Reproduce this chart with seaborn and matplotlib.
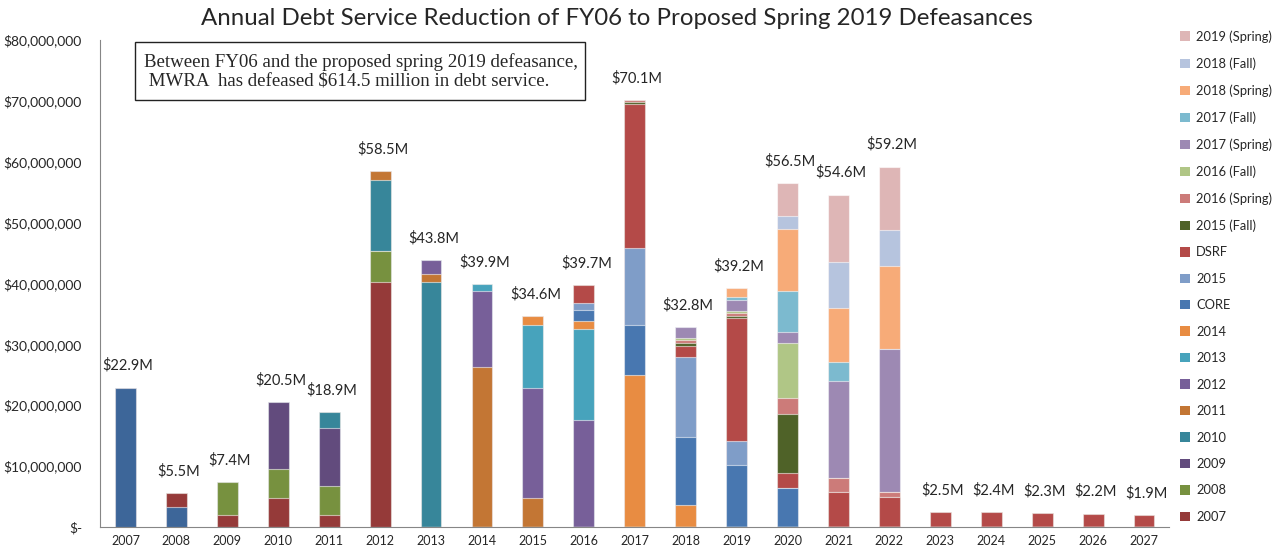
import numpy as np
import pandas as pd
import seaborn as sns
import matplotlib.pyplot as plt
from matplotlib.patches import Rectangle
from matplotlib.ticker import FuncFormatter, FixedLocator

# fiscal years on the x axis
years = [str(y) for y in range(2007, 2028)]

# debt service reduction per defeasance, $ millions
#         07    08   09   10    11    12    13    14    15    16    17    18    19    20    21    22   23   24   25   26   27
fy06   = [22.9, 3.3, 0,   0,    0,    0,    0,    0,    0,    0,    0,    0,    0,    0,    0,    0,   0,   0,   0,   0,   0]
d2007  = [0,    2.2, 1.9, 4.7,  1.9,  40.3, 0,    0,    0,    0,    0,    0,    0,    0,    0,    0,   0,   0,   0,   0,   0]
d2008  = [0,    0,   5.5, 4.8,  4.8,  5.0,  0,    0,    0,    0,    0,    0,    0,    0,    0,    0,   0,   0,   0,   0,   0]
d2009  = [0,    0,   0,   11.0, 9.6,  0,    0,    0,    0,    0,    0,    0,    0,    0,    0,    0,   0,   0,   0,   0,   0]
d2010  = [0,    0,   0,   0,    2.6,  11.7, 40.3, 0,    0,    0,    0,    0,    0,    0,    0,    0,   0,   0,   0,   0,   0]
d2011  = [0,    0,   0,   0,    0,    1.5,  1.2,  26.2, 4.7,  0,    0,    0,    0,    0,    0,    0,   0,   0,   0,   0,   0]
d2012  = [0,    0,   0,   0,    0,    0,    2.3,  12.6, 18.1, 17.5, 0,    0,    0,    0,    0,    0,   0,   0,   0,   0,   0]
d2013  = [0,    0,   0,   0,    0,    0,    0,    1.1,  10.3, 15.1, 0,    0,    0,    0,    0,    0,   0,   0,   0,   0,   0]
d2014  = [0,    0,   0,   0,    0,    0,    0,    0,    1.5,  1.2,  25.0, 3.6,  0,    0,    0,    0,   0,   0,   0,   0,   0]
core   = [0,    0,   0,   0,    0,    0,    0,    0,    0,    1.8,  8.1,  11.1, 10.1, 6.4,  0,    0,   0,   0,   0,   0,   0]
d2015  = [0,    0,   0,   0,    0,    0,    0,    0,    0,    1.2,  12.7, 13.2, 4.0,  0,    0,    0,   0,   0,   0,   0,   0]
dsrf   = [0,    0,   0,   0,    0,    0,    0,    0,    0,    2.9,  23.6, 1.8,  20.2, 2.4,  5.7,  5.0, 2.5, 2.4, 2.3, 2.2, 1.9]
f2015  = [0,    0,   0,   0,    0,    0,    0,    0,    0,    0,    0.4,  0.6,  0.4,  9.7,  0,    0,   0,   0,   0,   0,   0]
sp2016 = [0,    0,   0,   0,    0,    0,    0,    0,    0,    0,    0.3,  0.4,  0.4,  2.7,  2.3,  0.7, 0,   0,   0,   0,   0]
f2016  = [0,    0,   0,   0,    0,    0,    0,    0,    0,    0,    0,    0.4,  0.4,  9.0,  0,    0,   0,   0,   0,   0,   0]
sp2017 = [0,    0,   0,   0,    0,    0,    0,    0,    0,    0,    0,    1.7,  1.7,  1.9,  15.9, 23.5,0,   0,   0,   0,   0]
f2017  = [0,    0,   0,   0,    0,    0,    0,    0,    0,    0,    0,    0,    0.5,  6.7,  3.2,  0,   0,   0,   0,   0,   0]
sp2018 = [0,    0,   0,   0,    0,    0,    0,    0,    0,    0,    0,    0,    1.5,  10.2, 8.8,  13.7,0,   0,   0,   0,   0]
f2018  = [0,    0,   0,   0,    0,    0,    0,    0,    0,    0,    0,    0,    0,    2.1,  7.7,  5.8, 0,   0,   0,   0,   0]
sp2019 = [0,    0,   0,   0,    0,    0,    0,    0,    0,    0,    0,    0,    0,    5.4,  11.0, 10.5,0,   0,   0,   0,   0]

# stacking order, bottom to top: (legend label, values, colour)
series = [
    ("_FY06", fy06, "#3D6699"),
    ("2007", d2007, "#953A39"),
    ("2008", d2008, "#77913F"),
    ("2009", d2009, "#624B7D"),
    ("2010", d2010, "#37869A"),
    ("2011", d2011, "#C37634"),
    ("2012", d2012, "#775F99"),
    ("2013", d2013, "#47A3BC"),
    ("2014", d2014, "#E88C42"),
    ("CORE", core, "#4877B0"),
    ("2015", d2015, "#7F9DC8"),
    ("DSRF", dsrf, "#B44A48"),
    ("2015 (Fall)", f2015, "#4F6228"),
    ("2016 (Spring)", sp2016, "#CC7B79"),
    ("2016 (Fall)", f2016, "#B0C686"),
    ("2017 (Spring)", sp2017, "#9D89B3"),
    ("2017 (Fall)", f2017, "#7CBACF"),
    ("2018 (Spring)", sp2018, "#F7AB78"),
    ("2018 (Fall)", f2018, "#B6C4DE"),
    ("2019 (Spring)", sp2019, "#DEB6B6"),
]

sns.set_style("white")
plt.rcParams["font.family"] = ["Lato", "DejaVu Sans"]

df = pd.DataFrame({name: vals for name, vals, _ in series}, index=years) * 1e6
cum = df.cumsum(axis=1)

fig = plt.figure(figsize=(12.87, 5.56), dpi=100)
ax = fig.add_axes([0.0777, 0.0522, 0.831, 0.876])

# draw the cumulative totals from the top series down so each lower layer sits in front
handles = []
for name, _, color in reversed(series):
    sns.barplot(x=years, y=cum[name].values, color=color, saturation=1,
                width=0.41, edgecolor=(1, 1, 1, 0.55), linewidth=0.8, ax=ax)
    if not name.startswith("_"):
        handles.append(Rectangle((0, 0), 1, 1, facecolor=color, edgecolor="none", label=name))

totals = df.sum(axis=1).values
for i, t in enumerate(totals):
    ax.text(i + 0.05, t + 2.4e6, f"${t / 1e6:.1f}M", ha="center", va="bottom", fontsize=10.5)

ax.set_ylim(0, 80e6)
ax.set_xlim(-0.5, len(years) - 0.5)
ax.yaxis.set_major_locator(FixedLocator(np.arange(0, 80e6 + 1, 10e6)))
ax.yaxis.set_major_formatter(FuncFormatter(lambda v, p: "$-" if v == 0 else f"${v:,.0f}"))
ax.set_xticks(range(len(years)))
ax.set_xticklabels(years)
ax.set_xticks(np.arange(-0.5, len(years)), minor=True)
ax.tick_params(axis="x", which="major", length=0, labelsize=9, pad=6)
ax.tick_params(axis="x", which="minor", length=5, color="#868686", direction="out")
ax.tick_params(axis="y", length=5, color="#868686", direction="out", labelsize=10, pad=8)
ax.set_xlabel("")
ax.set_ylabel("")
for side in ["top", "right"]:
    ax.spines[side].set_visible(False)
for side in ["left", "bottom"]:
    ax.spines[side].set_color("#868686")

fig.text(0.479, 0.967, "Annual Debt Service Reduction of FY06 to Proposed Spring 2019 Defeasances",
         ha="center", va="center", fontsize=17.3)

fig.legend(handles=handles, loc="upper left", bbox_to_anchor=(0.913, 0.955), frameon=False,
           fontsize=9.3, handlelength=0.75, handleheight=0.75, handletextpad=0.5,
           labelspacing=1.12, borderaxespad=0)

# note box
fig.patches.append(Rectangle((135 / 1287, 1 - 100 / 556), 450 / 1287, 58 / 556,
                             transform=fig.transFigure, facecolor="white",
                             edgecolor="#222222", linewidth=1))
fig.text(144 / 1287, 1 - 71 / 556,
         "Between FY06 and the proposed spring 2019 defeasance,\n MWRA  has defeased $614.5 million in debt service.",
         ha="left", va="center", fontsize=13.6, family="Liberation Serif", linespacing=1.12)

fig.savefig("out.png", dpi=100)
